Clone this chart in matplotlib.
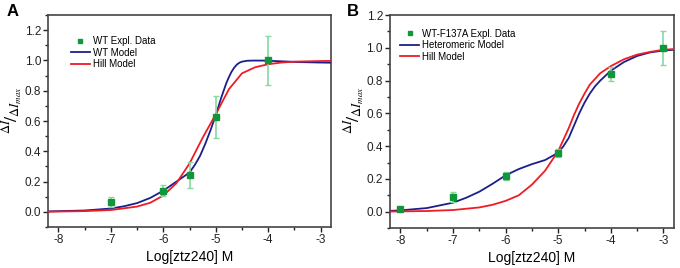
import matplotlib
matplotlib.use("Agg")
import matplotlib.pyplot as plt
from matplotlib.lines import Line2D
from matplotlib.ticker import MultipleLocator

plt.rcParams['font.family'] = ['Liberation Sans', 'DejaVu Sans']
plt.rcParams['mathtext.fontset'] = 'stix'
plt.rcParams['axes.unicode_minus'] = False

# panel A - WT
a_x = [-7, -6, -5.5, -5, -4]
a_y = [0.065, 0.14, 0.245, 0.625, 1.0]
a_err = [0.03, 0.035, 0.085, 0.14, 0.16]

a_model_x = [-8.2, -7.5, -7.0, -6.75, -6.5, -6.25, -6.0, -5.75, -5.5, -5.4, -5.3, -5.2,
             -5.1, -5.0, -4.9, -4.8, -4.75, -4.7, -4.65, -4.6, -4.55, -4.5, -4.4, -4.3,
             -4.1, -3.8, -3.4, -3.0, -2.8]
a_model_y = [0.003, 0.009, 0.022, 0.037, 0.058, 0.092, 0.14, 0.20, 0.26, 0.31, 0.37, 0.45,
             0.54, 0.64, 0.75, 0.85, 0.89, 0.925, 0.952, 0.972, 0.985, 0.992, 0.998, 0.999,
             0.999, 0.995, 0.989, 0.986, 0.985]

a_hill_x = [-8.2, -7.5, -7.0, -6.5, -6.25, -6.0, -5.75, -5.5, -5.25, -5.0, -4.75, -4.5,
            -4.25, -4.0, -3.75, -3.5, -3.0, -2.8]
a_hill_y = [0.001, 0.005, 0.012, 0.035, 0.06, 0.108, 0.19, 0.32, 0.49, 0.645, 0.81, 0.915,
            0.955, 0.975, 0.986, 0.992, 0.996, 0.997]

# panel B - WT-F137A
b_x = [-8, -7, -6, -5, -4, -3]
b_y = [0.015, 0.09, 0.22, 0.36, 0.84, 1.0]
b_err = [0.005, 0.03, 0.025, 0.025, 0.045, 0.105]

b_model_x = [-8.2, -8.0, -7.5, -7.0, -6.75, -6.5, -6.25, -6.0, -5.75, -5.5, -5.25, -5.0,
             -4.9, -4.8, -4.7, -4.6, -4.5, -4.4, -4.3, -4.2, -4.0, -3.75, -3.5, -3.25,
             -3.0, -2.8]
b_model_y = [0.005, 0.008, 0.022, 0.055, 0.085, 0.122, 0.17, 0.222, 0.26, 0.29, 0.315, 0.36,
             0.40, 0.45, 0.525, 0.60, 0.665, 0.72, 0.765, 0.80, 0.86, 0.913, 0.950, 0.972,
             0.983, 0.988]

b_hill_x = [-8.2, -7.5, -7.0, -6.5, -6.25, -6.0, -5.75, -5.5, -5.25, -5.0, -4.9, -4.8,
            -4.7, -4.6, -4.5, -4.4, -4.2, -4.0, -3.75, -3.5, -3.25, -3.0, -2.8]
b_hill_y = [0.001, 0.004, 0.01, 0.026, 0.042, 0.066, 0.10, 0.165, 0.25, 0.37, 0.44, 0.51,
            0.59, 0.66, 0.72, 0.775, 0.845, 0.888, 0.93, 0.958, 0.975, 0.988, 0.992]

green = '#12963c'
errgreen = '#86d9a2'
blue = '#1b1f8a'
red = '#ee1c24'

fig = plt.figure(figsize=(6.8, 2.68), dpi=100)
axA = fig.add_axes([0.0706, 0.153, 0.4164, 0.791])
axB = fig.add_axes([0.5735, 0.149, 0.4175, 0.795])


def panel(ax, px, py, perr, mx, my, hx, hy, labels, ylim, yticks, leg_anchor, lab_y):
    ax.plot(mx, my, color=blue, lw=1.3, zorder=3)
    ax.plot(hx, hy, color=red, lw=1.3, zorder=4)
    ax.errorbar(px, py, yerr=perr, fmt='none', ecolor=errgreen, elinewidth=1.2,
                capsize=2.5, capthick=1.0, zorder=5)
    ax.plot(px, py, 's', color=green, ms=4, zorder=6)
    ax.set_xlim(-8.2, -2.8)
    ax.set_ylim(*ylim)
    ax.set_xticks([-8, -7, -6, -5, -4, -3])
    ax.set_yticks(yticks)
    ax.xaxis.set_minor_locator(MultipleLocator(0.5))
    ax.yaxis.set_minor_locator(MultipleLocator(0.1))
    ax.tick_params(which='major', direction='out', length=3.5, width=1, labelsize=8.5,
                   colors='#222222', pad=1.5)
    ax.tick_params(which='minor', direction='out', length=2, width=1, colors='#222222')
    for s in ax.spines.values():
        s.set_linewidth(1.2)
        s.set_color('#444444')
    ax.set_xlabel('Log[ztz240] M', fontsize=10, labelpad=3)
    ax.set_ylabel(r'$^{\Delta I}\!/_{\Delta I_{max}}$', fontsize=13)
    ax.yaxis.set_label_coords(-0.08, lab_y)
    handles = [Line2D([], [], ls='none', marker='s', color=green, ms=3.5),
               Line2D([], [], color=blue, lw=1.3),
               Line2D([], [], color=red, lw=1.3)]
    ax.legend(handles, labels, loc='upper left', bbox_to_anchor=leg_anchor,
              frameon=False, fontsize=7, handlelength=2.0, handletextpad=0.3,
              borderpad=0, borderaxespad=0, labelspacing=0.15)


panel(axA, a_x, a_y, a_err, a_model_x, a_model_y, a_hill_x, a_hill_y,
      ['WT Expl. Data', 'WT Model', 'Hill Model'], (-0.1, 1.3),
      [0.0, 0.2, 0.4, 0.6, 0.8, 1.0, 1.2], (0.08, 0.9), 0.55)
panel(axB, b_x, b_y, b_err, b_model_x, b_model_y, b_hill_x, b_hill_y,
      ['WT-F137A Expl. Data', 'Heteromeric Model', 'Hill Model'], (-0.1, 1.2),
      [0.0, 0.2, 0.4, 0.6, 0.8, 1.0, 1.2], (0.035, 0.935), 0.554)

fig.text(0.01, 0.985, 'A', fontsize=12, fontweight='bold', va='top', ha='left')
fig.text(0.51, 0.985, 'B', fontsize=12, fontweight='bold', va='top', ha='left')

fig.savefig('out.png', dpi=100)
